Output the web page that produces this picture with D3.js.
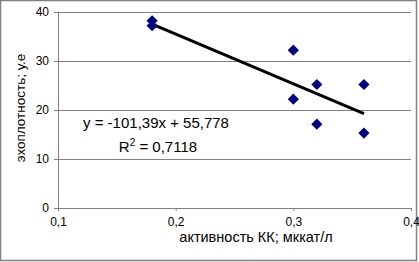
<!DOCTYPE html>
<html>
<head>
<meta charset="utf-8">
<script src="https://cdn.jsdelivr.net/npm/d3@7"></script>
<style>
  body { margin: 0; background: #fff; }
  svg { display: block; font-family: Arial, "Liberation Sans", sans-serif; }
</style>
</head>
<body>
<div id="chart"></div>
<script>
// activity vs echo density, with linear trend
const activity = [0.18, 0.18, 0.30, 0.30, 0.32, 0.32, 0.36, 0.36];
const density = [38.2, 37.2, 32.2, 22.2, 25.2, 17.1, 25.2, 15.3];
const xTicks = [0.1, 0.2, 0.3, 0.4];
const yTicks = [0, 10, 20, 30, 40];
const trendSlope = -101.39;
const trendIntercept = 55.778;
const equationText = 'y = -101,39x + 55,778';
const r2Value = '0,7118';

const W = 419, H = 262;
const margin = { top: 12, right: 8, bottom: 54, left: 58 };
const width = W - margin.left - margin.right;
const height = H - margin.top - margin.bottom;

const svg = d3.select('#chart').append('svg')
  .attr('width', W)
  .attr('height', H);

// outer chart border
svg.append('rect')
  .attr('x', 0.5).attr('y', 0.5)
  .attr('width', 416).attr('height', 260)
  .attr('fill', '#fff')
  .attr('stroke', '#808080')
  .attr('stroke-width', 1.5);

const g = svg.append('g')
  .attr('transform', `translate(${margin.left},${margin.top})`);

const x = d3.scaleLinear().domain([0.1, 0.4]).range([0, width]);
const y = d3.scaleLinear().domain([0, 40]).range([height, 0]);

const fmt = d => d3.format('')(d).replace('.', ',');

// horizontal grid
g.append('g')
  .selectAll('line')
  .data(yTicks.filter(d => d > 0))
  .enter().append('line')
  .attr('x1', 0).attr('x2', width)
  .attr('y1', d => Math.round(y(d)) + 0.5)
  .attr('y2', d => Math.round(y(d)) + 0.5)
  .attr('stroke', '#808080');

// axes
const yAxis = g.append('g')
  .call(d3.axisLeft(y).tickValues(yTicks).tickSize(4).tickPadding(5).tickFormat(fmt));
const xAxis = g.append('g')
  .attr('transform', `translate(0,${height})`)
  .call(d3.axisBottom(x).tickValues(xTicks).tickSize(3).tickPadding(6).tickFormat(fmt));

[xAxis, yAxis].forEach(a => {
  a.select('.domain').attr('stroke', '#808080');
  a.selectAll('.tick line').attr('stroke', '#808080');
  a.selectAll('.tick text')
    .attr('fill', '#000')
    .style('font-size', '12px')
    .style('font-family', 'Arial, "Liberation Sans", sans-serif');
});

// trend line over the data range
const xr = d3.extent(activity);
g.append('line')
  .attr('x1', x(xr[0])).attr('y1', y(trendSlope * xr[0] + trendIntercept))
  .attr('x2', x(xr[1])).attr('y2', y(trendSlope * xr[1] + trendIntercept))
  .attr('stroke', '#000')
  .attr('stroke-width', 3);

// points
g.selectAll('.pt')
  .data(activity.map((a, i) => ({ a, v: density[i] })))
  .enter().append('path')
  .attr('class', 'pt')
  .attr('d', d3.symbol().type(d3.symbolDiamond2).size(80))
  .attr('transform', d => `translate(${x(d.a)},${y(d.v)})`)
  .attr('fill', '#000080');

// equation labels
g.append('text')
  .attr('x', 98).attr('y', 116)
  .attr('text-anchor', 'middle')
  .style('font-size', '15px')
  .text(equationText);

const r2 = g.append('text')
  .attr('x', 100).attr('y', 140)
  .attr('text-anchor', 'middle')
  .style('font-size', '15px');
r2.append('tspan').text('R');
r2.append('tspan').attr('dy', -6).style('font-size', '10px').text('2');
r2.append('tspan').attr('dy', 6).text(' = ' + r2Value);

// axis titles
svg.append('text')
  .attr('transform', 'translate(25,108) rotate(-90)')
  .attr('text-anchor', 'middle')
  .style('font-size', '13.5px')
  .text('эхоплотность; у.е');

svg.append('text')
  .attr('x', 256).attr('y', 242)
  .attr('text-anchor', 'middle')
  .style('font-size', '14.5px')
  .text('активность КК; мккат/л');
</script>
</body>
</html>
